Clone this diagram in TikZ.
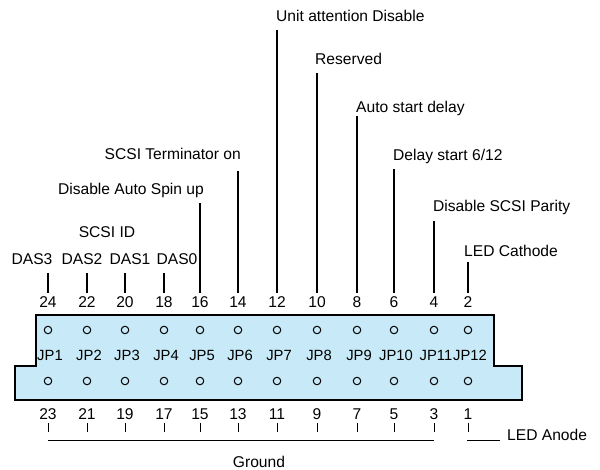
\documentclass[tikz,border=0pt]{standalone}
\usepackage{fontspec}
\setmainfont{Liberation Sans}
\definecolor{blockblue}{RGB}{199,233,248}
\begin{document}
\begin{tikzpicture}[x=1pt,y=-1pt,
  lbl/.style={inner sep=0pt, font=\fontsize{15.6}{18}\selectfont},
  jplbl/.style={inner sep=0pt, font=\fontsize{14.8}{17}\selectfont},
  lead/.style={line width=1.4pt},
  tickln/.style={line width=1pt},
  pin/.style={circle, draw, line width=1pt, minimum size=7.5pt, inner sep=0pt}]
\useasboundingbox (0,0) rectangle (600,470);
% connector block
\draw[fill=blockblue, line width=1.4pt] (36,315) -- (494,315) -- (494,366) -- (522,366)
  -- (522,400) -- (15,400) -- (15,366) -- (36,366) -- cycle;
% pins, numbers
\foreach \x [count=\i] in {48,87,125,164,200,238,277,317,357,394,434,468} {
  \pgfmathtruncatemacro\ntop{26-2*\i}
  \pgfmathtruncatemacro\nbot{25-2*\i}
  \node[pin] (pt\i) at (\x,330) {};
  \node[pin] (pb\i) at (\x,381) {};
  \node[jplbl, anchor=base] (jp\i) at (\x+2,361) {JP\i};
  \node[lbl, anchor=base] (nt\i) at (\x,308) {\ntop};
  \node[lbl, anchor=base] (nb\i) at (\x,420) {\nbot};
  \coordinate (ta\i) at (\x,293);
  \coordinate (ba\i) at (\x,423);
  \coordinate (bb\i) at (\x,432);
  \draw[tickln] (ba\i) -- (bb\i);
}
% top labels
\node[lbl, anchor=base west] (l12) at (276,22) {Unit attention Disable};
\node[lbl, anchor=base west] (l10) at (315,65) {Reserved};
\node[lbl, anchor=base west] (l8) at (356,113) {Auto start delay};
\node[lbl, anchor=base west] (l6) at (393,161) {Delay start 6/12};
\node[lbl, anchor=base west] (l4) at (433,212) {Disable SCSI Parity};
\node[lbl, anchor=base west] (l2) at (464,257) {LED Cathode};
\node[lbl, anchor=base east] (l14) at (241,160) {SCSI Terminator on};
\node[lbl, anchor=base east] (l16) at (204,195) {Disable Auto Spin up};
\node[lbl, anchor=base] (scsiid) at (107,238) {SCSI ID};
\node[lbl, anchor=base] (das3) at (32,265) {DAS3};
\node[lbl, anchor=base] (das2) at (82,265) {DAS2};
\node[lbl, anchor=base] (das1) at (130,265) {DAS1};
\node[lbl, anchor=base] (das0) at (177,265) {DAS0};
% lead line tops
\coordinate (h7) at (277,30);
\coordinate (h8) at (317,73);
\coordinate (h9) at (357,116);
\coordinate (h10) at (394,169);
\coordinate (h11) at (434,221);
\coordinate (h12) at (468,262);
\coordinate (h6) at (238,171);
\coordinate (h5) at (200,203);
\coordinate (h4) at (164,273);
\coordinate (h3) at (125,273);
\coordinate (h2) at (87,273);
\coordinate (h1) at (48,273);
\foreach \i in {1,...,12} { \draw[lead] (h\i) -- (ta\i); }
% bottom
\coordinate (g1) at (48,440);
\coordinate (g2) at (434,440);
\draw[tickln] (g1) -- (g2);
\node[lbl, anchor=base] (ground) at (259,467) {Ground};
\coordinate (a1) at (467,440);
\coordinate (a2) at (500,440);
\draw[tickln] (a1) -- (a2);
\node[lbl, anchor=base west] (anode) at (507,440) {LED Anode};
\end{tikzpicture}
\end{document}
